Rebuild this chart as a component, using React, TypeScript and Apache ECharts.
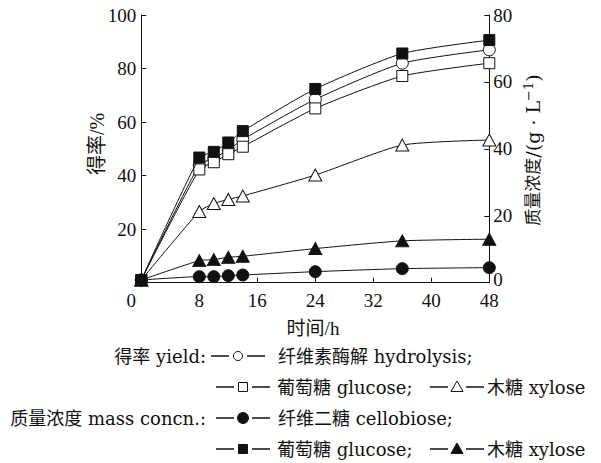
import React, { useEffect, useRef } from "react";
import * as echarts from "echarts";

const times = [0, 8, 10, 12, 14, 24, 36, 48];
const xTicks = [0, 8, 16, 24, 32, 40, 48];
const hydrolysisYield = [1, 44, 46.5, 49.6, 53.5, 68.5, 82, 87];
const glucoseYield = [1, 42.3, 45, 48, 50.8, 65.1, 77.2, 82];
const xyloseYield = [1, 26.6, 29.6, 31.1, 32.4, 40.2, 51.4, 53.3];
const cellobioseConc = [0.8, 1.8, 1.8, 2.1, 2.3, 3.3, 4.2, 4.5];
const glucoseConc = [0.8, 37.4, 39.1, 41.9, 45.3, 57.9, 68.5, 72.5];
const xyloseConc = [0.8, 6.6, 6.9, 7.6, 7.9, 10.2, 12.5, 13];

const FONT = "'Liberation Serif', 'Noto Sans CJK SC', serif";
const LFONT = "'DejaVu Serif', 'Noto Sans CJK SC', serif";
const INK = "#111";

type Mk = { shape: "circle" | "rect" | "triangle"; filled: boolean };

function pairs(ys: number[]) {
  return times.map((t, i) => [t, ys[i]]);
}

function series(name: string, ys: number[], axis: number, mk: Mk) {
  const size =
    mk.shape === "circle" ? 12 : mk.shape === "rect" ? 11 : [13, 12];
  return {
    name,
    type: "line",
    yAxisIndex: axis,
    data: pairs(ys),
    smooth: 0.2,
    symbol: mk.shape,
    symbolSize: size,
    showAllSymbol: true,
    lineStyle: { color: INK, width: 1 },
    itemStyle: {
      color: mk.filled ? INK : "#fff",
      borderColor: INK,
      borderWidth: 1,
    },
    z: mk.filled ? 3 : 2,
  };
}

function legendMarker(x0: number, y: number, mk: Mk): any[] {
  const els: any[] = [
    { type: "line", shape: { x1: x0, y1: y, x2: x0 + 18, y2: y }, style: { stroke: INK, lineWidth: 1.5 } },
    { type: "line", shape: { x1: x0 + 36, y1: y, x2: x0 + 54, y2: y }, style: { stroke: INK, lineWidth: 1.5 } },
  ];
  const cx = x0 + 27;
  const style = { fill: mk.filled ? INK : "#fff", stroke: INK, lineWidth: 1 };
  if (mk.shape === "circle") {
    els.push({ type: "circle", shape: { cx, cy: y, r: mk.filled ? 5.5 : 4.5 }, style });
  } else if (mk.shape === "rect") {
    els.push({ type: "rect", shape: { x: cx - 4.5, y: y - 4.5, width: 9, height: 9 }, style });
  } else {
    els.push({
      type: "polygon",
      shape: { points: [[cx, y - 6], [cx + 6, y + 4.5], [cx - 6, y + 4.5]] },
      style,
    });
  }
  return els;
}

function txt(x: number, y: number, text: string, align = "left"): any {
  return {
    type: "text",
    x,
    y,
    style: {
      text,
      fill: INK,
      font: `18px ${LFONT}`,
      align,
      verticalAlign: "middle",
    },
  };
}

export default function App() {
  const ref = useRef<HTMLDivElement>(null);
  useEffect(() => {
    if (!ref.current) return;
    const chart = echarts.init(ref.current, undefined, { renderer: "svg" });
    const axisText = { color: INK, fontSize: 19, fontFamily: FONT };
    const graphics: any[] = [
      {
        type: "text",
        x: 97,
        y: 144,
        rotation: Math.PI / 2,
        style: { text: "得率/%", fill: INK, font: `20px ${FONT}`, align: "center", verticalAlign: "middle" },
      },
      {
        type: "text",
        x: 533,
        y: 150,
        rotation: Math.PI / 2,
        style: {
          text: "{c|质量浓度}{l|/(g · L}{s|−1}{l|)}",
          fill: INK,
          align: "center",
          verticalAlign: "middle",
          rich: {
            c: { fill: INK, font: `17px ${FONT}` },
            l: { fill: INK, font: `19px ${LFONT}` },
            s: { fill: INK, font: `13px ${LFONT}`, padding: [0, 0, 10, 0] },
          },
        },
      },
      {
        type: "text",
        x: 313,
        y: 328,
        style: { text: "时间/h", fill: INK, font: `19px ${FONT}`, align: "center", verticalAlign: "middle" },
      },
      txt(206, 356, "得率 yield:", "right"),
      ...legendMarker(211, 356, { shape: "circle", filled: false }),
      txt(278, 356, "纤维素酶解 hydrolysis;"),
      ...legendMarker(216, 387, { shape: "rect", filled: false }),
      txt(277, 387, "葡萄糖 glucose;"),
      ...legendMarker(430, 387, { shape: "triangle", filled: false }),
      txt(487, 387, "木糖 xylose"),
      txt(206, 418, "质量浓度 mass concn.:", "right"),
      ...legendMarker(216, 418, { shape: "circle", filled: true }),
      txt(278, 418, "纤维二糖 cellobiose;"),
      ...legendMarker(216, 449, { shape: "rect", filled: true }),
      txt(277, 449, "葡萄糖 glucose;"),
      ...legendMarker(430, 449, { shape: "triangle", filled: true }),
      txt(487, 449, "木糖 xylose"),
    ];
    chart.setOption({
      animation: false,
      backgroundColor: "#fff",
      grid: { left: 141.3, right: 111.7, top: 15, bottom: 180.3, containLabel: false },
      xAxis: {
        type: "value",
        min: 0,
        max: 48,
        interval: 8,
        splitLine: { show: false },
        axisLine: { lineStyle: { color: INK, width: 1 } },
        axisTick: { inside: true, length: 5, lineStyle: { color: INK } },
        axisLabel: {
          ...axisText,
          margin: 8,
          formatter: (v: number) => (v === 0 ? "{z|0}" : xTicks.includes(v) ? String(v) : ""),
          rich: { z: { ...axisText, padding: [0, 20, 0, 0] } },
        },
      },
      yAxis: [
        {
          type: "value",
          position: "left",
          min: 0,
          max: 100,
          interval: 20,
          splitLine: { show: false },
          axisLine: { show: true, lineStyle: { color: INK, width: 1 } },
          axisTick: { show: true, inside: true, length: 5, lineStyle: { color: INK } },
          axisLabel: { ...axisText, margin: 5, formatter: (v: number) => (v === 0 ? "" : String(v)) },
        },
        {
          type: "value",
          position: "right",
          min: 0,
          max: 80,
          interval: 20,
          splitLine: { show: false },
          axisLine: { show: true, lineStyle: { color: INK, width: 1 } },
          axisTick: { show: true, inside: true, length: 5, lineStyle: { color: INK } },
          axisLabel: {
            ...axisText,
            margin: 4,
            formatter: (v: number) => (v === 0 ? "{z|0}" : String(v)),
            rich: { z: { ...axisText, padding: [0, 0, 6, 0] } },
          },
        },
      ],
      series: [
        series("纤维素酶解 hydrolysis", hydrolysisYield, 0, { shape: "circle", filled: false }),
        series("葡萄糖 glucose (yield)", glucoseYield, 0, { shape: "rect", filled: false }),
        series("木糖 xylose (yield)", xyloseYield, 0, { shape: "triangle", filled: false }),
        series("纤维二糖 cellobiose", cellobioseConc, 1, { shape: "circle", filled: true }),
        series("葡萄糖 glucose (concn)", glucoseConc, 1, { shape: "rect", filled: true }),
        series("木糖 xylose (concn)", xyloseConc, 1, { shape: "triangle", filled: true }),
      ],
      graphic: graphics,
    });
    return () => chart.dispose();
  }, []);
  return (
    <div
      ref={ref}
      style={{ position: "fixed", left: 0, top: 0, width: 601, height: 463, background: "#fff" }}
    />
  );
}
